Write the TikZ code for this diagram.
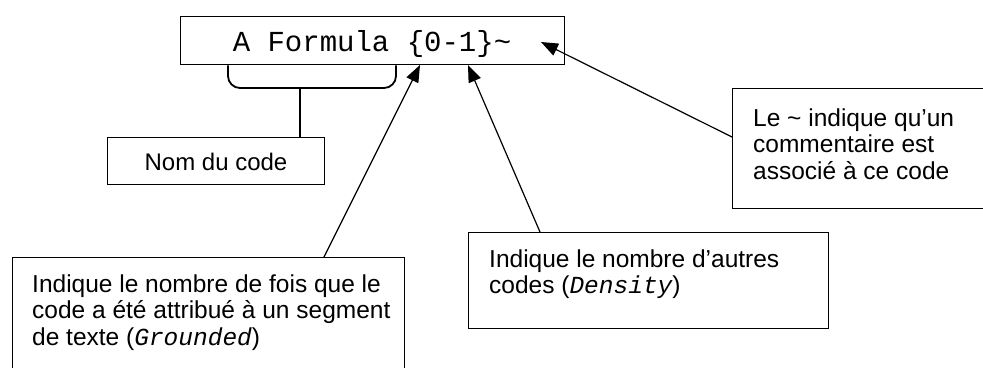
\documentclass[tikz,border=0pt]{standalone}
\usepackage{fontspec}
\setmainfont{Liberation Sans}
\newfontfamily\codefont{Liberation Mono}
\usetikzlibrary{arrows.meta,calc}

\begin{document}
\begin{tikzpicture}[x=1pt,y=-1pt,
  box/.style={draw, line width=1.3pt, inner sep=0pt, anchor=north west},
  label/.style={anchor=base west, inner sep=0pt, font=\fontsize{24.5}{26.5}\selectfont},
  pointer/.style={line width=1.2pt, -{Triangle[length=17pt,width=13pt]}},
  brace/.style={line width=1.8pt, rounded corners=12pt},
  stem/.style={line width=1.8pt}]
\useasboundingbox (0,0) rectangle (983,367);
\clip (0,0) rectangle (983,367);

% code entry
\node[box, minimum width=384pt, minimum height=48pt] (formula) at (180,16) {};
\node[anchor=base, inner sep=0pt, font=\codefont\fontsize{29}{32}\selectfont]
  (formulatext) at (372,51) {A Formula \{0-1\}\textasciitilde};

% explanation boxes
\node[box, minimum width=217pt, minimum height=47pt] (nom) at (107,137) {};
\node[anchor=base, inner sep=0pt, font=\fontsize{24}{26.5}\selectfont]
  (nomtext) at (216,170) {Nom du code};

\node[box, minimum width=392pt, minimum height=160pt] (grounded) at (12,257) {};
\node[label] (groundedtext) at (32,292) {\begin{tabular}[t]{@{}l@{}}Indique le nombre de fois que le\\code a été attribué à un segment\\de texte ({\codefont\itshape Grounded})\end{tabular}};

\node[box, minimum width=360pt, minimum height=96pt] (density) at (468,232) {};
\node[label] (densitytext) at (489,267) {\begin{tabular}[t]{@{}l@{}}Indique le nombre d’autres\\codes ({\codefont\itshape Density})\end{tabular}};

\node[box, minimum width=300pt, minimum height=120pt] (comment) at (732,88) {};
\node[label] (commenttext) at (753,126) {\begin{tabular}[t]{@{}l@{}}Le \textasciitilde{} indique qu’un\\commentaire est\\associé à ce code\end{tabular}};

% bracket under the code name
\coordinate (braceL) at ($(formula.south west)+(48,0)$);
\coordinate (braceR) at ($(formula.south west)+(216,0)$);
\coordinate (braceM) at (300,88);
\draw[brace] (braceL) -- (braceL |- braceM) -- (braceR |- braceM) -- (braceR);
\draw[stem] (braceM) -- (braceM |- nom.north);

% pointers to the parts of the entry
\coordinate (tipG) at (420,65);
\coordinate (tailG) at ($(grounded.north west)+(312,0)$);
\draw[pointer] (tailG) -- (tipG);

\coordinate (tipD) at (468,65);
\coordinate (tailD) at ($(density.north west)+(72,0)$);
\draw[pointer] (tailD) -- (tipD);

\coordinate (tipC) at (541,42);
\coordinate (tailC) at ($(comment.north west)+(0,49)$);
\draw[pointer] (tailC) -- (tipC);
\end{tikzpicture}
\end{document}
